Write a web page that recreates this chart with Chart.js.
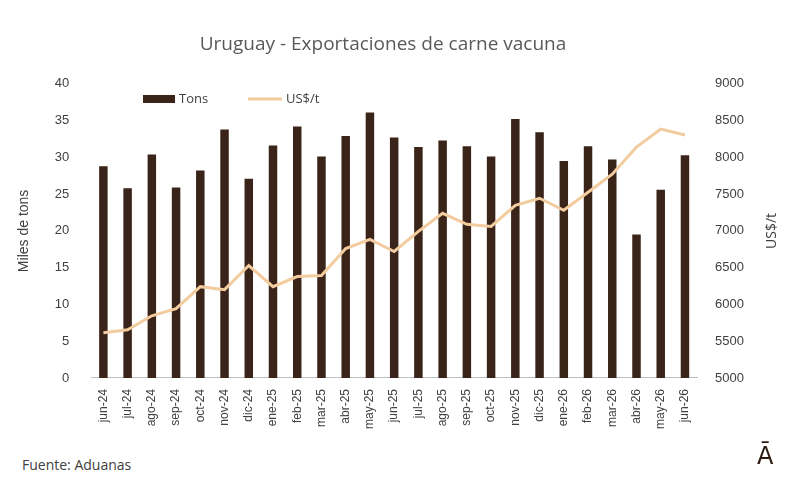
<!DOCTYPE html>
<html><head><meta charset="utf-8">
<script src="https://cdn.jsdelivr.net/npm/chart.js@4"></script>
<style>
body{margin:0;background:#fff;font-family:"Open Sans",sans-serif;}
#wrap{position:relative;width:800px;height:491px;}
#foot{position:absolute;left:22px;top:455px;font-size:14px;color:#404040;}
#logo{position:absolute;left:757px;top:442px;font-size:24px;color:#2b1a10;font-family:"DejaVu Sans";}
</style></head><body>
<div id="wrap"><canvas id="c" width="800" height="450"></canvas>
<div id="foot">Fuente: Aduanas</div><div id="logo">Ā</div></div>
<script>
const labels = ['jun-24','jul-24','ago-24','sep-24','oct-24','nov-24','dic-24','ene-25','feb-25','mar-25','abr-25','may-25','jun-25','jul-25','ago-25','sep-25','oct-25','nov-25','dic-25','ene-26','feb-26','mar-26','abr-26','may-26','jun-26'];
const tons = [28.8,25.8,30.4,25.9,28.2,33.8,27.1,31.6,34.2,30.1,32.9,36.1,32.7,31.4,32.3,31.5,30.1,35.2,33.4,29.5,31.5,29.7,19.5,25.6,30.3];
const usdPerTon = [5614,5655,5846,5942,6242,6201,6529,6242,6379,6393,6761,6884,6720,6993,7239,7089,7061,7348,7444,7280,7526,7771,8140,8385,8303];

new Chart(document.getElementById('c'), {
  data: {
    labels,
    datasets: [
      {type:'line', label:'US$/t', data:usdPerTon, yAxisID:'y2', borderColor:'#f2cb9e', backgroundColor:'#f2cb9e', borderWidth:3, pointRadius:0, tension:0, order:0},
      {type:'bar', label:'Tons', data:tons, yAxisID:'y', backgroundColor:'#3a2318', barPercentage:0.35, categoryPercentage:1, order:1}
    ]
  },
  options: {
    responsive:false, animation:false,
    layout:{padding:{left:12,right:46,top:0,bottom:18}},
    plugins:{
      title:{display:true, text:'Uruguay - Exportaciones de carne vacuna', color:'#595959', font:{size:19,family:'Open Sans',weight:'normal'}, padding:{top:33,bottom:28}},
      legend:{display:false}
    },
    scales:{
      x:{grid:{display:false}, border:{color:'#bfbfbf'}, ticks:{color:'#404040', font:{size:12}, maxRotation:90, minRotation:90}},
      y:{position:'left', min:0, max:40, ticks:{stepSize:5, color:'#404040', font:{size:13}, padding:14}, grid:{display:false}, border:{display:false},
         title:{display:true, text:'Miles de tons', color:'#404040', font:{size:14}, padding:{bottom:8}}},
      y2:{position:'right', min:5000, max:9000, ticks:{stepSize:500, color:'#404040', font:{size:13}, padding:10, callback:v=>String(v)}, grid:{display:false}, border:{display:false}}
    }
  },
  plugins:[{
    id:'leg',
    afterDraw(ch){
      const c=ch.ctx; c.save();
      c.fillStyle='#3a2318'; c.fillRect(143,95,32,8);
      c.strokeStyle='#f2cb9e'; c.lineWidth=3; c.beginPath(); c.moveTo(248,99); c.lineTo(282,99); c.stroke();
      c.fillStyle='#404040'; c.font='13px "Open Sans"'; c.textBaseline='middle';
      c.fillText('Tons',179,99); c.fillText('US$/t',286,99);
      const a=ch.chartArea;
      c.font='14px "Open Sans"'; c.textAlign='center';
      c.translate(ch.width-28,(a.top+a.bottom)/2); c.rotate(-Math.PI/2);
      c.fillText('US$/t',0,0);
      c.restore();
    }
  }]
});
</script>
</body></html>
